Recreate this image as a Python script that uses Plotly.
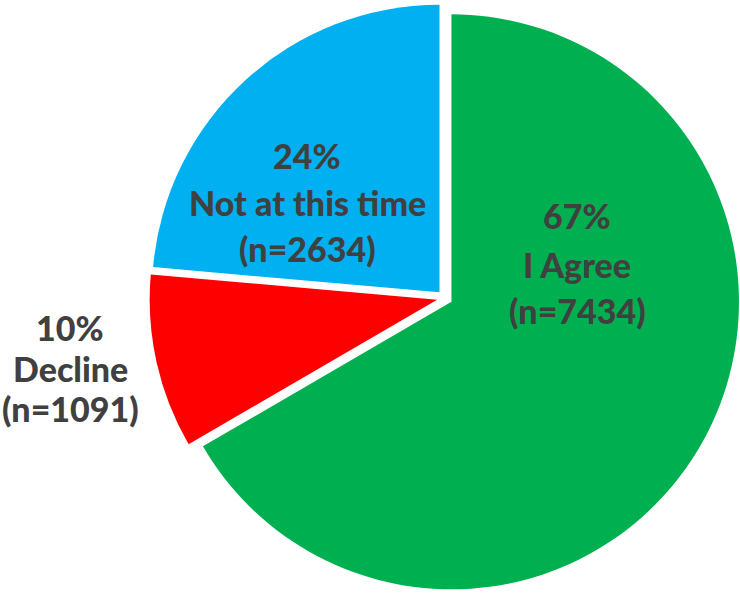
import plotly.graph_objects as go

# Survey responses
labels = ["I Agree", "Decline", "Not at this time"]
counts = [7434, 1091, 2634]
colors = ["#00B050", "#FF0000", "#00B0F0"]

total = sum(counts)
percents = [round(c / total * 100) for c in counts]

W, H = 740, 596
FONT = "Lato, 'Open Sans', sans-serif"
TEXT_COLOR = "#404040"

fig = go.Figure(
    go.Pie(
        labels=labels,
        values=counts,
        sort=False,
        direction="clockwise",
        rotation=0,
        pull=[0.027] * len(counts),
        marker=dict(colors=colors, line=dict(width=0)),
        textinfo="none",
        hoverinfo="label+value+percent",
        domain=dict(x=[0.202, 1.0], y=[0.0, 1.0]),
        showlegend=False,
    )
)

# Label placement (pixel centres of each text line) per slice
label_layout = {
    "I Agree": (577, [216, 264, 310]),
    "Decline": (70, [327, 368, 408]),
    "Not at this time": (307, [156, 202, 248]),
}

annotations = []
for name, n, pct in zip(labels, counts, percents):
    cx, rows = label_layout[name]
    lines = [f"{pct}%", name, f"(n={n})"]
    for line, py in zip(lines, rows):
        annotations.append(
            dict(
                text=line,
                x=cx / W,
                y=1 - py / H,
                xref="paper",
                yref="paper",
                xanchor="center",
                yanchor="middle",
                showarrow=False,
                font=dict(family=FONT, size=34, color=TEXT_COLOR, weight=900),
            )
        )

fig.update_layout(
    width=W,
    height=H,
    margin=dict(l=0, r=0, t=0, b=0),
    paper_bgcolor="white",
    plot_bgcolor="white",
    annotations=annotations,
)

fig.write_html("out.html")
